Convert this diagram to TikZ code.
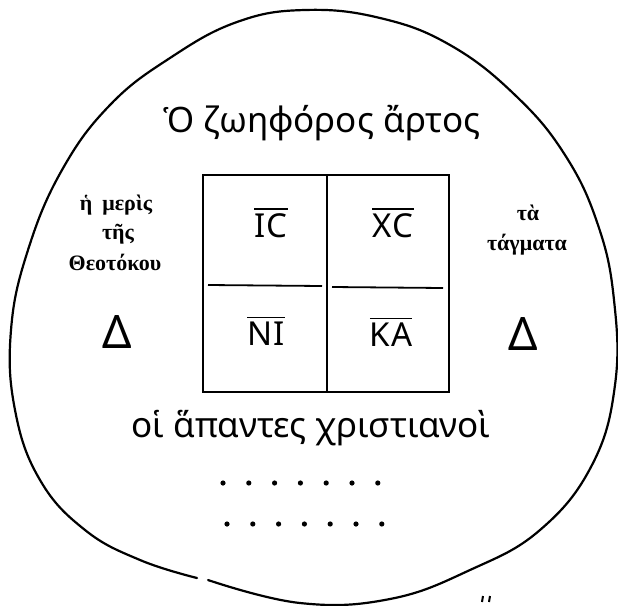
\documentclass[tikz,border=0pt]{standalone}
\usepackage{fontspec}
\setmainfont{Noto Sans}
\newfontfamily\grserif{Liberation Serif}
\newfontfamily\cellfont[LetterSpace=3]{Noto Sans}
\usepackage{tikz}
\usetikzlibrary{positioning}

\newcommand{\ovl}[1]{\vbox{\hrule height 1.3pt\kern4pt\hbox{#1}}}

\begin{document}
\begin{tikzpicture}[x=1pt, y=-1pt,
    big/.style={font=\fontsize{35}{40}\selectfont, inner sep=0pt},
    side/.style={font=\grserif\bfseries\fontsize{22}{26}\selectfont, inner sep=0pt},
    delta/.style={font=\fontsize{46}{50}\selectfont, inner sep=0pt},
    cell/.style={font=\cellfont\fontsize{33}{36}\selectfont, inner sep=0pt},
    rim/.style={line width=2.2pt, line cap=round},
    grid/.style={line width=1.8pt}
]
    \useasboundingbox (0,0) rectangle (618,605);

    \draw[rim] plot[smooth, tension=0.7] coordinates {
        (208,580) (300,603) (390,599) (470,570) (540,530) (592,465)
        (615,385) (614,300) (598,225) (565,155) (515,95) (450,45)
        (380,18) (305,10) (237,22) (170,58) (110,105) (62,170) (28,250)
        (11,330) (15,410) (40,480) (85,530) (140,560) (197,578)};

    \node[big] (title) at (322,123) {Ὁ ζωηφόρος ἄρτος};

    \draw[grid] (203,175) rectangle (449,392);
    \draw[grid] (327,175) -- (327,392);
    \draw[grid] (208,285) -- (322,286);
    \draw[grid] (332,287) -- (443,288);

    \node[cell] (ic) at (271,223) {\ovl{ΙϹ}};
    \node[cell] (xc) at (393,223) {\ovl{ΧϹ}};
    \node[cell] (ni) at (266,331) {\ovl{ΝΙ}};
    \node[cell] (ka) at (391,332) {\ovl{ΚΑ}};

    \node[side] (meris)    at (116,205) {ἡ\hspace{0.45em}μερὶς};
    \node[side] (tis)      at (118,234) {τῆς};
    \node[side] (theotok)  at (115,262) {Θεοτόκου};
    \node[delta] (dleft)   at (117,332) {Δ};

    \node[side] (ta)       at (528,213) {τὰ};
    \node[side] (tagmata)  at (527,245) {τάγματα};
    \node[delta] (dright)  at (523,334) {Δ};

    \node[big] (christ) at (311,428) {οἱ ἅπαντες χριστιανοὶ};

    \foreach \i in {0,...,6} {
        \fill (223+25.8*\i,483) circle (2.6pt);
        \fill (227+25.8*\i,524) circle (2.6pt);
    }

    \draw[line width=2pt] (483,596) -- (482,602);
    \draw[line width=2pt] (490,596) -- (489,602);
\end{tikzpicture}
\end{document}
